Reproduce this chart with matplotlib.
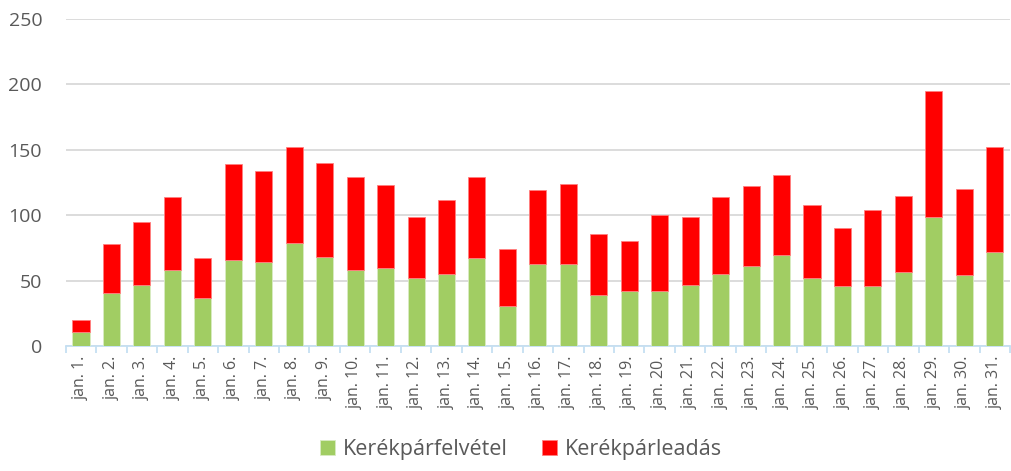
import matplotlib.pyplot as plt
import numpy as np

plt.rcParams['font.family'] = ['Open Sans', 'DejaVu Sans']

days = ['jan. %d.' % d for d in range(1, 32)]
# Kerékpárfelvétel (zöld) és teljes magasság (zöld + piros)
felvetel = [11, 41, 47, 58, 37, 66, 64, 79, 68, 58, 60, 52, 55, 67, 31, 63,
            63, 39, 42, 42, 47, 55, 61, 70, 52, 46, 46, 57, 99, 54, 72]
osszes = [20, 78, 95, 114, 67, 139, 134, 152, 140, 129, 123, 99, 112, 129, 74, 119,
          124, 86, 80, 100, 99, 114, 122, 131, 108, 90, 104, 115, 195, 120, 152]
leadas = [o - f for o, f in zip(osszes, felvetel)]

green = '#a1cd63'
red = '#ff0000'
grey = '#595959'

fig = plt.figure(figsize=(10.12, 4.71), dpi=100)
ax = fig.add_axes([0.065, 0.265, 0.933, 0.695])

x = np.arange(len(days))
ax.bar(x, felvetel, width=0.56, color=green, edgecolor='#d9ecc4', linewidth=0.6,
       label='Kerékpárfelvétel', zorder=3)
ax.bar(x, leadas, bottom=felvetel, width=0.56, color=red, edgecolor='#ff8080',
       linewidth=0.6, label='Kerékpárleadás', zorder=3)

ax.set_ylim(0, 250)
ax.set_xlim(-0.5, len(days) - 0.5)
ax.set_yticks(range(0, 251, 50))
ax.yaxis.grid(True, color='#d9d9d9', linewidth=1.3)
ax.set_axisbelow(True)
for s in ['top', 'right', 'left']:
    ax.spines[s].set_visible(False)
ax.spines['bottom'].set_color('#c5dff2')
ax.spines['bottom'].set_linewidth(1.3)

ax.tick_params(axis='y', length=0, labelsize=14, labelcolor=grey, pad=17)
ax.set_xticks(x)
ax.set_xticklabels(days, rotation=90, fontsize=11.5, color=grey)
ax.tick_params(axis='x', length=0, pad=7)
# kis osztásjelek a kategóriák között
ax.set_xticks(np.arange(-0.5, len(days), 1), minor=True)
ax.tick_params(axis='x', which='minor', length=5, color='#c5dff2', width=1.3)

fig.legend(loc='lower center', bbox_to_anchor=(0.515, -0.017), ncol=2, frameon=False,
           fontsize=15.5, labelcolor=grey, handlelength=0.7, handleheight=0.7,
           handletextpad=0.35, columnspacing=1.6)

fig.savefig('out.png', dpi=100)
